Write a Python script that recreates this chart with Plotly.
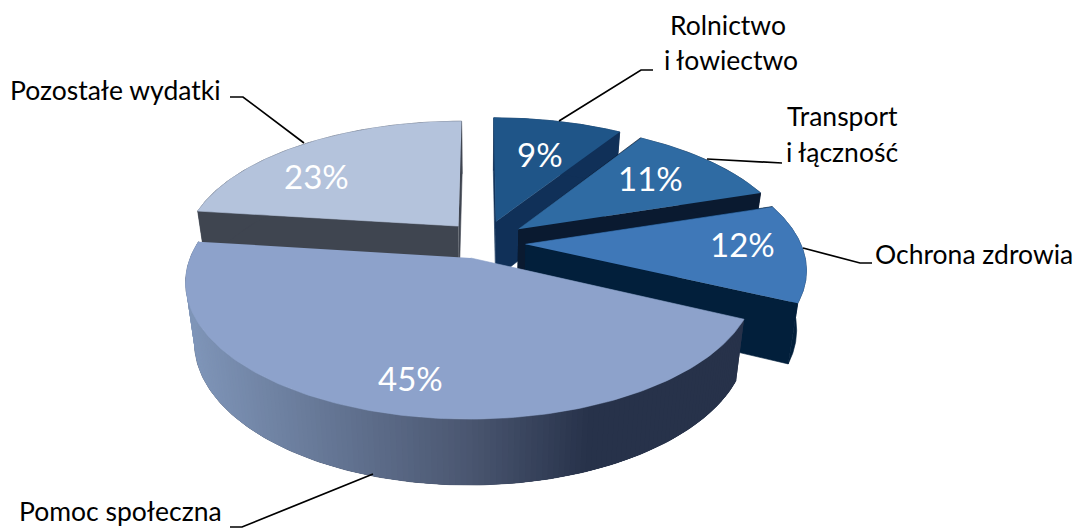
import numpy as np
import plotly.graph_objects as go

# Budget shares, clockwise from twelve o'clock
categories = ["Rolnictwo i łowiectwo", "Transport i łączność", "Ochrona zdrowia",
              "Pomoc społeczna", "Pozostałe wydatki"]
shares = [9, 11, 12, 45, 23]

# Slice styling
top_colors = ["#1F5588", "#2F6BA3", "#3F78B8", "#8DA2CB", "#B4C3DC"]
side_colors = ["#103058", "#0A1A30", "#021F3B", "#27324A", "#3F4550"]
shift_x = [0.06, 0.142, 0.165, -0.033, -0.08]
shift_y = [0.173, 0.11, -0.01, -0.115, 0.135]
draw_order = [4, 0, 1, 2, 3]

# Projection of the pie plane on to the page
CX, CY = 480.0, 243.0
RX, RY = 275.0, 128.0
K = 0.17
DEPTH = 58.0
DEPTH_GROW = 0.045
BOTTOM_SHRINK = 0.97
TEXT_FONT = "Lato, Carlito, Calibri, sans-serif"


def project(u, v):
    w = 1 + K * v
    return CX + RX * u / w, CY - RY * v / w


def lower(x, y):
    return CX + (x - CX) * BOTTOM_SHRINK, y + DEPTH + (y - CY) * DEPTH_GROW


def blend(c0, c1, t):
    a = [int(c0[i:i + 2], 16) for i in (1, 3, 5)]
    b = [int(c1[i:i + 2], 16) for i in (1, 3, 5)]
    return "#%02X%02X%02X" % tuple(round(p + (q - p) * t) for p, q in zip(a, b))


def band_color(x):
    # Horizontal shading along the rim of the large slice
    left, middle, right = 190, 470, 590
    if x <= middle:
        return blend("#7F95B8", "#4A5670", max(0, (x - left) / (middle - left)))
    return blend("#4A5670", "#27324A", min(1, (x - middle) / (right - middle)))


fig = go.Figure()


def polygon(xs, ys, color, edge=0.6):
    fig.add_trace(go.Scatter(x=list(xs), y=list(ys), mode="lines", fill="toself",
                             fillcolor=color, line=dict(color=color, width=edge),
                             hoverinfo="skip"))


edges = np.cumsum([0] + shares) / sum(shares) * 2 * np.pi
for i in draw_order:
    a0, a1 = edges[i], edges[i + 1]
    theta = np.linspace(a0, a1, 160)
    x_top, y_top = project(shift_x[i] + np.sin(theta), shift_y[i] + np.cos(theta))
    x_apex, y_apex = project(shift_x[i], shift_y[i])
    x_low, y_low = lower(x_top, y_top)
    xa_low, ya_low = lower(x_apex, y_apex)

    # Radial cut faces
    if i != 3:
        for k in (0, -1):
            polygon([x_apex, x_top[k], x_low[k], xa_low], [y_apex, y_top[k], y_low[k], ya_low],
                    side_colors[i])
    # Outer rim; each strip of the large slice overlaps the next so no seams show
    polygon(np.r_[x_top, x_low[::-1]], np.r_[y_top, y_low[::-1]], side_colors[i])
    if i == 3:
        for k in range(len(theta) - 1):
            j = min(k + 3, len(theta) - 1)
            xm = (x_top[k] + x_top[k + 1]) / 2
            polygon(np.r_[x_top[k:j + 1], x_low[k:j + 1][::-1]],
                    np.r_[y_top[k:j + 1], y_low[k:j + 1][::-1]], band_color(xm), edge=0)
    # Top face
    polygon(np.r_[x_apex, x_top], np.r_[y_apex, y_top], top_colors[i])

# Leader lines between the slices and their captions
leaders = [
    ([559, 641, 653], [121, 70, 70]),
    ([707, 782], [159, 163]),
    ([803, 860, 872], [248, 263, 263]),
    ([373, 242, 230], [474, 527, 527]),
    ([304, 243, 230], [143, 97, 97]),
]
for lx, ly in leaders:
    fig.add_trace(go.Scatter(x=lx, y=ly, mode="lines", line=dict(color="#000000", width=1.7),
                             hoverinfo="skip"))


def caption(text, x, y, size, color="#000000", anchor="center"):
    fig.add_annotation(x=x, y=y, text=text, showarrow=False, xanchor=anchor, yanchor="middle",
                       font=dict(family=TEXT_FONT, size=size, color=color))


caption("Rolnictwo", 728, 25, 26.5)
caption("i łowiectwo", 731, 60, 26.5)
caption("Transport", 842, 116, 26.5)
caption("i łączność", 842, 152, 26.5)
caption(categories[2], 873, 254, 26.5, anchor="left")
caption(categories[3], 17, 511, 26.5, anchor="left")
caption(categories[4], 8, 90, 26.5, anchor="left")

pct_x = [540, 650, 742, 410, 316]
pct_y = [154, 178, 244, 378, 176]
for value, px, py in zip(shares, pct_x, pct_y):
    caption(f"{value}%", px, py, 33, color="#FFFFFF")

fig.update_layout(
    width=1081, height=529, margin=dict(l=0, r=0, t=0, b=0),
    paper_bgcolor="#FFFFFF", plot_bgcolor="#FFFFFF", showlegend=False, hovermode=False,
    xaxis=dict(range=[0, 1081], visible=False, fixedrange=True),
    yaxis=dict(range=[529, 0], visible=False, fixedrange=True),
)
fig.write_html("out.html", config={"displayModeBar": False})
